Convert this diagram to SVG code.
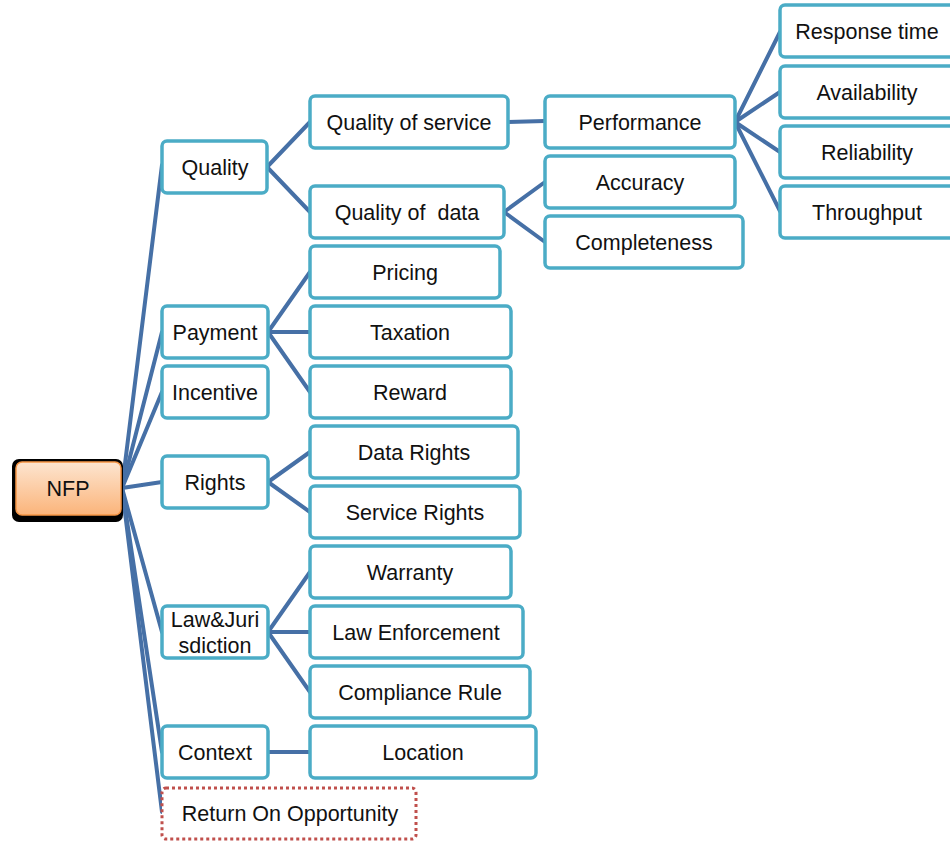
<svg xmlns="http://www.w3.org/2000/svg" width="950" height="842" viewBox="0 0 950 842">
<defs>
<linearGradient id="og" x1="0" y1="0" x2="0" y2="1">
<stop offset="0" stop-color="#fde5d0"/>
<stop offset="1" stop-color="#fbb47a"/>
</linearGradient>
</defs>
<style>
.n{fill:#fff;stroke:#4bacc6;stroke-width:3.5}
.d{fill:#fff;stroke:#c0504d;stroke-width:3;stroke-dasharray:3 3}
.t{font-family:"Liberation Sans",Arial,sans-serif;font-size:21.5px;fill:#111;text-anchor:middle;white-space:pre}
.c line{stroke:#4670a6;stroke-width:4;stroke-linecap:round}
</style>
<rect width="950" height="842" fill="#fff"/>
<g class="c" id="connectors">
<line x1="122" y1="488" x2="162" y2="165"/>
<line x1="122" y1="488" x2="162" y2="332"/>
<line x1="122" y1="488" x2="162" y2="392"/>
<line x1="122" y1="488" x2="162" y2="482"/>
<line x1="122" y1="488" x2="162" y2="632"/>
<line x1="122" y1="488" x2="162" y2="752"/>
<line x1="122" y1="488" x2="162" y2="812"/>
<line x1="267" y1="167" x2="310" y2="122"/>
<line x1="267" y1="167" x2="310" y2="212"/>
<line x1="508" y1="122" x2="545" y2="121"/>
<line x1="504" y1="212" x2="545" y2="182"/>
<line x1="504" y1="212" x2="545" y2="242"/>
<line x1="735" y1="122" x2="780" y2="32"/>
<line x1="735" y1="122" x2="780" y2="92"/>
<line x1="735" y1="122" x2="780" y2="152"/>
<line x1="735" y1="122" x2="780" y2="211"/>
<line x1="268" y1="332" x2="310" y2="272"/>
<line x1="268" y1="332" x2="310" y2="332"/>
<line x1="268" y1="332" x2="310" y2="392"/>
<line x1="268" y1="482" x2="310" y2="452"/>
<line x1="268" y1="482" x2="310" y2="512"/>
<line x1="268" y1="632" x2="310" y2="572"/>
<line x1="268" y1="632" x2="310" y2="632"/>
<line x1="268" y1="632" x2="310" y2="692"/>
<line x1="268" y1="752" x2="310" y2="752"/>
</g>
<g id="nfp">
<rect x="12" y="459" width="111" height="63" rx="7" fill="#000"/>
<rect x="16" y="462" width="105" height="53" rx="6" fill="url(#og)" stroke="#f79646" stroke-width="1.5"/>
<text class="t" x="68" y="496">NFP</text>
</g>
<g id="quality"><rect class="n" x="162" y="141" width="105" height="52" rx="5"/><text class="t" x="215" y="175">Quality</text></g>
<g id="qos"><rect class="n" x="310" y="96" width="198" height="52" rx="5"/><text class="t" x="409" y="130">Quality of service</text></g>
<g id="qod"><rect class="n" x="310" y="186" width="194" height="52" rx="5"/><text class="t" x="407" y="220">Quality of  data</text></g>
<g id="performance"><rect class="n" x="545" y="96" width="190" height="52" rx="5"/><text class="t" x="640" y="130">Performance</text></g>
<g id="accuracy"><rect class="n" x="545" y="156" width="190" height="52" rx="5"/><text class="t" x="640" y="190">Accuracy</text></g>
<g id="completeness"><rect class="n" x="545" y="216" width="198" height="52" rx="5"/><text class="t" x="644" y="250">Completeness</text></g>
<g id="response"><rect class="n" x="780" y="5" width="178" height="52" rx="5"/><text class="t" x="867" y="39">Response time</text></g>
<g id="availability"><rect class="n" x="780" y="66" width="178" height="52" rx="5"/><text class="t" x="867" y="100">Availability</text></g>
<g id="reliability"><rect class="n" x="780" y="126" width="178" height="52" rx="5"/><text class="t" x="867" y="160">Reliability</text></g>
<g id="throughput"><rect class="n" x="780" y="186" width="178" height="52" rx="5"/><text class="t" x="867" y="220">Throughput</text></g>
<g id="payment"><rect class="n" x="162" y="306" width="106" height="52" rx="5"/><text class="t" x="215" y="340">Payment</text></g>
<g id="pricing"><rect class="n" x="310" y="246" width="190" height="52" rx="5"/><text class="t" x="405" y="280">Pricing</text></g>
<g id="taxation"><rect class="n" x="310" y="306" width="201" height="52" rx="5"/><text class="t" x="410" y="340">Taxation</text></g>
<g id="reward"><rect class="n" x="310" y="366" width="201" height="52" rx="5"/><text class="t" x="410" y="400">Reward</text></g>
<g id="incentive"><rect class="n" x="162" y="366" width="106" height="52" rx="5"/><text class="t" x="215" y="400">Incentive</text></g>
<g id="rights"><rect class="n" x="162" y="456" width="106" height="52" rx="5"/><text class="t" x="215" y="490">Rights</text></g>
<g id="datarights"><rect class="n" x="310" y="426" width="208" height="52" rx="5"/><text class="t" x="414" y="460">Data Rights</text></g>
<g id="servicerights"><rect class="n" x="310" y="486" width="210" height="52" rx="5"/><text class="t" x="415" y="520">Service Rights</text></g>
<g id="law"><rect class="n" x="162" y="606" width="106" height="52" rx="5"/><text class="t" x="215" y="627">Law&amp;Juri</text><text class="t" x="215" y="653">sdiction</text></g>
<g id="warranty"><rect class="n" x="310" y="546" width="201" height="52" rx="5"/><text class="t" x="410" y="580">Warranty</text></g>
<g id="lawenf"><rect class="n" x="310" y="606" width="213" height="52" rx="5"/><text class="t" x="416" y="640">Law Enforcement</text></g>
<g id="compliance"><rect class="n" x="310" y="666" width="220" height="52" rx="5"/><text class="t" x="420" y="700">Compliance Rule</text></g>
<g id="context"><rect class="n" x="162" y="726" width="106" height="52" rx="5"/><text class="t" x="215" y="760">Context</text></g>
<g id="location"><rect class="n" x="310" y="726" width="226" height="52" rx="5"/><text class="t" x="423" y="760">Location</text></g>
<g id="roo"><rect class="d" x="162" y="788" width="254" height="51" rx="4"/><text class="t" x="290" y="821">Return On Opportunity</text></g>
</svg>
